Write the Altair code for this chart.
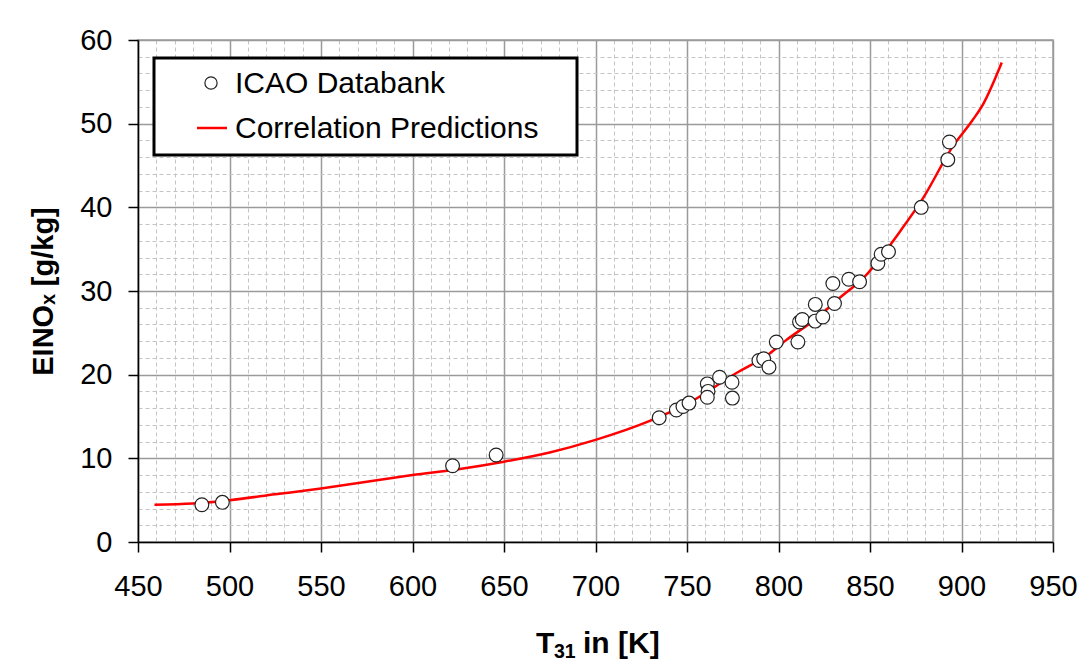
import altair as alt
import pandas as pd

# ICAO Databank measurements: combustor inlet temperature T31 [K] and EINOx [g/kg]
icao_t31 = [484.9, 496.1, 621.9, 645.7, 734.8, 744.2, 747.8, 751.1, 761.1, 761.5,
            761.1, 767.8, 774.6, 774.8, 789.3, 791.9, 794.8, 798.8, 810.6, 811.5,
            813.0, 820.1, 820.0, 824.2, 830.6, 829.7, 838.4, 844.3, 854.3, 856.1,
            860.1, 878.0, 892.5, 893.4]
icao_einox = [4.46, 4.74, 9.12, 10.4, 14.85, 15.77, 16.2, 16.6, 18.9, 18.0,
              17.3, 19.7, 19.1, 17.2, 21.7, 21.9, 20.9, 23.9, 23.9, 26.3,
              26.6, 28.4, 26.4, 26.9, 28.5, 30.9, 31.4, 31.1, 33.3, 34.4,
              34.7, 40.0, 45.7, 47.8]

# Correlation prediction curve
corr_t31 = [459, 480, 500, 525, 550, 575, 600, 625, 650, 675, 700, 730, 750,
            777, 795, 804, 820, 833, 847, 867, 879, 895, 906, 912, 922]
corr_einox = [4.46, 4.6, 5.0, 5.7, 6.4, 7.2, 8.0, 8.7, 9.6, 10.7, 12.2, 14.5, 16.5,
              20.2, 22.5, 24.1, 26.6, 29.1, 31.7, 37.3, 41.1, 47.2, 50.4, 52.4, 57.3]

# Tick positions: minor every 10 K / 2 g/kg, labelled majors every 50 K / 10 g/kg
x_ticks = list(range(450, 951, 10))
y_ticks = list(range(0, 61, 2))

points = pd.DataFrame({"T31": icao_t31, "EINOx": icao_einox})
curve = pd.DataFrame({"T31": corr_t31, "EINOx": corr_einox})

FONT = "Liberation Sans"
major_x = "datum.value % 50 === 0"
major_y = "datum.value % 10 === 0"


def grid_axis(values, test, **kw):
    return alt.Axis(
        values=values,
        labelExpr=f"{test} ? datum.label : ''",
        labelOverlap=False,
        labelFlush=False,
        labelFont=FONT,
        labelFontSize=29,
        labelColor="black",
        tickSize=10,
        tickWidth=1.5,
        tickColor={"condition": {"test": test, "value": "black"}, "value": "transparent"},
        domainColor="black",
        domainWidth=1.5,
        grid=True,
        gridColor={"condition": {"test": test, "value": "#9a9a9a"}, "value": "#c4c4c4"},
        gridWidth={"condition": {"test": test, "value": 1.5}, "value": 1},
        gridDash={"condition": {"test": test, "value": []}, "value": [4, 3]},
        titleFont=FONT,
        titleFontWeight="bold",
        titleColor="black",
        titleBaseline="alphabetic",
        titleAlign="center",
        **kw,
    )


x_enc = alt.X(
    "T31:Q",
    scale=alt.Scale(domain=[450, 950], nice=False, zero=False),
    axis=grid_axis(x_ticks, major_x, title="", labelPadding=20),
)
y_enc = alt.Y(
    "EINOx:Q",
    scale=alt.Scale(domain=[0, 60], nice=False),
    axis=grid_axis(y_ticks, major_y, title="EINOₓ [g/kg]", titleFontSize=29,
                   labelPadding=16, titleAngle=-90, titleX=-86, titleY=251),
)

line = alt.Chart(curve).mark_line(color="#ff0000", strokeWidth=2.5, interpolate="monotone").encode(
    x=x_enc, y=y_enc
)

dots = alt.Chart(points).mark_point(
    shape="circle", filled=True, fill="white", stroke="#222222", strokeWidth=1.2,
    size=190, opacity=1,
).encode(x=x_enc, y=y_enc)

one = alt.Data(values=[{"k": 1}])


def label(text, x, y, size, bold=False):
    return alt.Chart(one).mark_text(
        font=FONT, fontSize=size, fontWeight="bold" if bold else "normal",
        align="left", baseline="alphabetic", color="black",
    ).encode(x=alt.value(x), y=alt.value(y), text=alt.value(text))


# x-axis title with a true subscript: T31 in [K]
x_title = [
    label("T", 398, 613, 30, bold=True),
    label("31", 416, 618, 19.5, bold=True),
    label("in [K]", 445, 613, 30, bold=True),
]

# Legend box in the upper-left corner of the plot
legend_box = alt.Chart(one).mark_rect(fill="white", stroke="black", strokeWidth=3).encode(
    x=alt.value(16), x2=alt.value(439), y=alt.value(18), y2=alt.value(115)
)
legend_dot = alt.Chart(one).mark_point(
    shape="circle", filled=True, fill="white", stroke="#222222", strokeWidth=1.2, size=150, opacity=1
).encode(x=alt.value(73), y=alt.value(43))
legend_line = alt.Chart(one).mark_rule(color="#ff0000", strokeWidth=2.5).encode(
    x=alt.value(59), x2=alt.value(89), y=alt.value(88)
)
legend_txt = [
    label("ICAO Databank", 97, 53, 30),
    label("Correlation Predictions", 97, 98, 30),
]

chart = alt.layer(
    line, dots, legend_box, legend_dot, legend_line, *legend_txt, *x_title
).properties(
    width=915,
    height=502,
    autosize=alt.AutoSizeParams(type="none"),
    padding={"left": 138, "top": 40, "right": 38, "bottom": 129},
    background="white",
).configure_view(stroke="#9a9a9a", strokeWidth=1.5)

chart.save("out.html", embed_options={"renderer": "svg", "actions": False})
